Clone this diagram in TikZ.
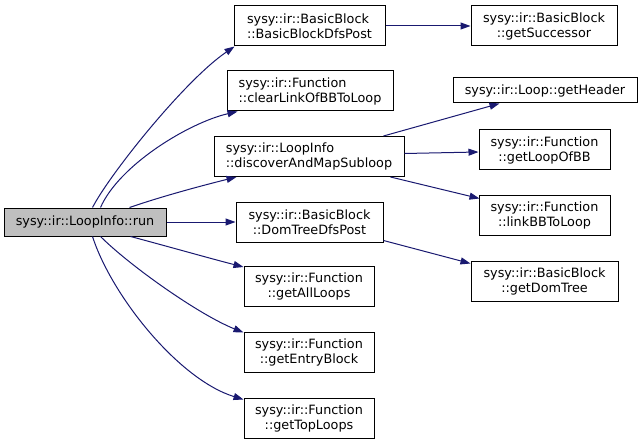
\documentclass[tikz,border=0pt]{standalone}
\usepackage{fontspec}
\setmainfont{DejaVu Sans}
\usetikzlibrary{arrows.meta,calc}
\definecolor{edgecol}{HTML}{191970}
\definecolor{rootfill}{HTML}{BFBFBF}
\begin{document}
\begin{tikzpicture}[x=1pt,y=-1pt,
  fn/.style={draw=black, line width=1pt, fill=white, inner sep=0pt,
    minimum height=40pt, font=\fontsize{12.8}{15}\selectfont, align=center},
  fnl/.style={fn, align=left},
  call/.style={draw=edgecol, line width=1pt, -{Triangle[length=10pt,width=7pt]}}]
\useasboundingbox (0,0) rectangle (641,444);
% nodes
\node[fn, fill=rootfill, minimum width=162pt, minimum height=28pt] (root) at (85,222) {sysy::ir::LoopInfo::run};
\node[fnl, minimum width=151pt] (bbdfs) at (309.5,26) {sysy::ir::BasicBlock\\::BasicBlockDfsPost};
\node[fnl, minimum width=166pt] (clear) at (310,91) {sysy::ir::Function\\::clearLinkOfBBToLoop};
\node[fnl, minimum width=190pt] (disc) at (309,156.5) {sysy::ir::LoopInfo\\::discoverAndMapSubloop};
\node[fn, minimum width=147pt] (domdfs) at (309.5,222) {sysy::ir::BasicBlock\\::DomTreeDfsPost};
\node[fn, minimum width=130pt] (alll) at (309,286.5) {sysy::ir::Function\\::getAllLoops};
\node[fn, minimum width=130pt] (entry) at (309,352) {sysy::ir::Function\\::getEntryBlock};
\node[fn, minimum width=130pt] (top) at (309,418) {sysy::ir::Function\\::getTopLoops};
\node[fn, minimum width=146pt] (succ) at (544,26) {sysy::ir::BasicBlock\\::getSuccessor};
\node[fn, minimum width=184pt, minimum height=25pt] (header) at (545,90.5) {sysy::ir::Loop::getHeader};
\node[fn, minimum width=131pt] (loop) at (544.5,150) {sysy::ir::Function\\::getLoopOfBB};
\node[fn, minimum width=131pt] (link) at (544.5,215) {sysy::ir::Function\\::linkBBToLoop};
\node[fn, minimum width=147pt] (domtree) at (544.5,281) {sysy::ir::BasicBlock\\::getDomTree};
% edges from root
\draw[call] ($(root.north west)+(89,0)$) .. controls +(17,-33) and +(-50,34) .. ($(bbdfs.south west)+(1,0)$);
\draw[call] ($(root.north west)+(97,0)$) .. controls +(19,-43) and +(-48,11) .. ($(clear.south west)+(11,0)$);
\draw[call] ($(root.north west)+(126,0)$) .. controls +(35,-12) and +(-32,8) .. ($(disc.south west)+(23,0)$);
\draw[call] (root.east) -- (domdfs.west);
\draw[call] ($(root.south west)+(127,0)$) .. controls +(34,9) and +(-35,-9) .. ($(alll.north west)+(0,1)$);
\draw[call] ($(root.south west)+(97,0)$) .. controls +(29,29) and +(-45,-18) .. ($(entry.north west)+(0,1)$);
\draw[call] ($(root.south west)+(89,0)$) .. controls +(19,59) and +(-65,-20) .. ($(top.north west)+(0,2)$);
% other edges
\draw[call] (bbdfs.east) -- (succ.west);
\draw[call] ($(disc.north east)+(-21,0)$) -- ($(header.south west)+(47,0)$);
\draw[call] ($(disc.east)+(0,-3)$) -- ($(loop.west)+(0,2)$);
\draw[call] ($(disc.south east)+(-14,0)$) -- ($(link.north west)+(1,4)$);
\draw[call] ($(domdfs.south east)+(0,-2)$) -- ($(domtree.north west)+(0,3)$);
\end{tikzpicture}
\end{document}
